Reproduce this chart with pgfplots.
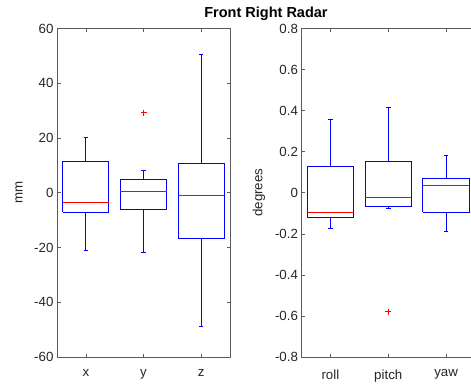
\documentclass[border=0pt]{standalone}
\usepackage{pgfplots}
\pgfplotsset{compat=1.18}
\usepackage{fontspec}
\setmainfont{Liberation Sans}
\definecolor{mblue}{RGB}{0,0,255}
\definecolor{mred}{RGB}{255,0,0}
\definecolor{axgray}{RGB}{90,90,90}
\definecolor{txt}{RGB}{38,38,38}
\pgfplotsset{
  mybox/.style={
    scale only axis, width=173pt, height=328.5pt,
    xmin=0.5, xmax=3.5, xtick={1,2,3},
    axis line style={axgray, line width=0.6pt},
    tick style={axgray, line width=0.6pt},
    major tick length=3.5pt,
    tick align=inside,
    ticklabel style={text=txt, font=\fontsize{13.3}{15}\selectfont},
    xticklabel style={yshift=-9pt},
    label style={text=txt, font=\fontsize{13.3}{15}\selectfont},
    /pgf/number format/assume math mode=true,
    yticklabel style={/pgf/number format/fixed},
    unbounded coords=jump,
  },
  bl/.style={draw=mblue, line width=1pt, no marks},
  md/.style={draw=mred, line width=1pt, no marks},
  ol/.style={only marks, mark=+, mark options={draw=mred, line width=0.8pt}, mark size=3pt},
}
\begin{document}
\begin{tikzpicture}
\path[use as bounding box, clip] (0,0) rectangle (471pt,383pt);
\fill[white] (0,0) rectangle (471pt,383pt);
\begin{axis}[mybox, at={(57pt,26pt)}, anchor=south west,
  ymin=-60, ymax=60, ytick={-60,-40,...,60},
  xticklabels={x,y,z}, ylabel={mm},
  ylabel style={at={(axis description cs:-0.22,0.5)}, anchor=center}]
\addplot[bl] table[row sep=\\] {
x y\\
0.6 -7.1\\ 1.4 -7.1\\ 1.4 11.5\\ 0.6 11.5\\ 0.6 -7.1\\ nan nan\\
1 11.5\\ 1 20.1\\ nan nan\\ 0.96 20.1\\ 1.04 20.1\\ nan nan\\
1 -7.1\\ 1 -21.2\\ nan nan\\ 0.96 -21.2\\ 1.04 -21.2\\ nan nan\\
1.6 -6.3\\ 2.4 -6.3\\ 2.4 4.8\\ 1.6 4.8\\ 1.6 -6.3\\ nan nan\\
2 4.8\\ 2 8.1\\ nan nan\\ 1.96 8.1\\ 2.04 8.1\\ nan nan\\
2 -6.3\\ 2 -21.7\\ nan nan\\ 1.96 -21.7\\ 2.04 -21.7\\ nan nan\\
2.6 -16.6\\ 3.4 -16.6\\ 3.4 10.6\\ 2.6 10.6\\ 2.6 -16.6\\ nan nan\\
3 10.6\\ 3 50.5\\ nan nan\\ 2.96 50.5\\ 3.04 50.5\\ nan nan\\
3 -16.6\\ 3 -49.0\\ nan nan\\ 2.96 -49.0\\ 3.04 -49.0\\
};
\addplot[md] table[row sep=\\] {
x y\\
0.6 -3.6\\ 1.4 -3.6\\ nan nan\\
1.6 0.6\\ 2.4 0.6\\ nan nan\\
2.6 -1.1\\ 3.4 -1.1\\
};
\addplot[ol] table[row sep=\\] {
x y\\
2 29.2\\
};
\end{axis}
\begin{axis}[mybox, at={(301.5pt,26pt)}, anchor=south west, width=173.5pt,
  ymin=-0.8, ymax=0.8, ytick={-0.8,-0.6,...,0.8},
  yticklabel style={/pgf/number format/precision=1},
  xticklabels={roll,pitch,yaw}, ylabel={degrees},
  ylabel style={at={(axis description cs:-0.245,0.5)}, anchor=center}]
\addplot[bl] table[row sep=\\] {
x y\\
0.6 -0.12\\ 1.4 -0.12\\ 1.4 0.13\\ 0.6 0.13\\ 0.6 -0.12\\ nan nan\\
1 0.13\\ 1 0.355\\ nan nan\\ 0.96 0.355\\ 1.04 0.355\\ nan nan\\
1 -0.12\\ 1 -0.175\\ nan nan\\ 0.96 -0.175\\ 1.04 -0.175\\ nan nan\\
1.6 -0.065\\ 2.4 -0.065\\ 2.4 0.152\\ 1.6 0.152\\ 1.6 -0.065\\ nan nan\\
2 0.152\\ 2 0.415\\ nan nan\\ 1.96 0.415\\ 2.04 0.415\\ nan nan\\
2 -0.065\\ 2 -0.076\\ nan nan\\ 1.96 -0.076\\ 2.04 -0.076\\ nan nan\\
2.6 -0.094\\ 3.4 -0.094\\ 3.4 0.07\\ 2.6 0.07\\ 2.6 -0.094\\ nan nan\\
3 0.07\\ 3 0.18\\ nan nan\\ 2.96 0.18\\ 3.04 0.18\\ nan nan\\
3 -0.094\\ 3 -0.19\\ nan nan\\ 2.96 -0.19\\ 3.04 -0.19\\
};
\addplot[md] table[row sep=\\] {
x y\\
0.6 -0.097\\ 1.4 -0.097\\ nan nan\\
1.6 -0.023\\ 2.4 -0.023\\ nan nan\\
2.6 0.034\\ 3.4 0.034\\
};
\addplot[ol] table[row sep=\\] {
x y\\
2 -0.58\\
};
\end{axis}
\node[font=\bfseries\fontsize{14.5}{17}\selectfont, text=black] at (266pt,369.5pt) {Front Right Radar};
\end{tikzpicture}
\end{document}
